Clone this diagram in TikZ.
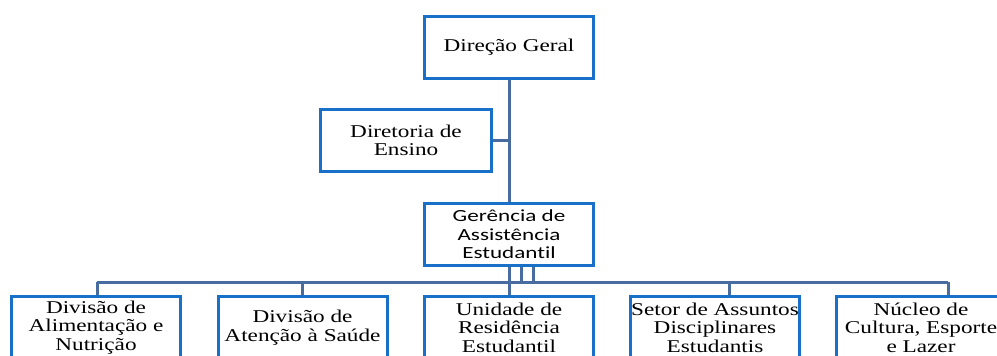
\documentclass[tikz,border=0pt]{standalone}
\usepackage{fontspec}
\setmainfont{Liberation Serif}[FakeStretch=1.29]
\newfontfamily\calfont{Carlito}[FakeStretch=1.36, Ligatures=NoCommon]
\definecolor{boxblue}{RGB}{24,112,200}
\definecolor{linkblue}{RGB}{72,108,160}
\begin{document}
\begin{tikzpicture}[x=1pt,y=-1pt,
    caixa/.style={draw=boxblue, line width=3pt, fill=white, minimum width=169pt,
      minimum height=62pt, align=center, inner sep=1pt,
      font=\fontsize{18}{18.5}\selectfont},
    liga/.style={draw=linkblue, line width=3pt}]
  \useasboundingbox (0,0) rectangle (997,356);
  \clip (0,0) rectangle (997,356);
        \node[caixa] (dg) at (509,47) {Direção Geral};
        \node[caixa, minimum width=171pt] (de) at (406,140.5) {Diretoria de\\Ensino};
        \node[caixa, font=\calfont\fontsize{17}{18.5}\selectfont] (ge) at (509,234.5)
          {Gerência de\\Assistência\\Estudantil};
        \node[caixa] (dan) at (96,327.5) {Divisão de\\Alimentação e\\Nutrição};
        \node[caixa] (das) at (302.5,327.5) {Divisão de\\Atenção à Saúde};
        \node[caixa] (ure) at (509,327.5) {Unidade de\\Residência\\Estudantil};
        \node[caixa] (sad) at (715,327.5) {Setor de Assuntos\\Disciplinares\\Estudantis};
        \node[caixa] (ncl) at (921,327.5) {Núcleo de\\Cultura, Esporte\\e Lazer};
        % ligacoes
        \coordinate (busL) at (97,282);
        \coordinate (busR) at (948,282);
        \draw[liga] (dg.south) -- (ge.north);
        \draw[liga] (de.east) -- (de.east -| dg.south);
        \draw[liga] (ge.south) -- (ge.south |- busL);
        \draw[liga] ([xshift=12pt]ge.south) -- +(0,15);
        \draw[liga] ([xshift=24pt]ge.south) -- +(0,15);
        \draw[liga] (busL) -- (busR);
        \draw[liga] (busL) -- (busL |- dan.north);
        \draw[liga] (busL -| das.north) -- (das.north);
        \draw[liga] (busL -| ure.north) -- (ure.north);
        \draw[liga] (729,282) -- (729,295);
        \draw[liga] (busR) -- (busR |- ncl.north);
\end{tikzpicture}
\end{document}
